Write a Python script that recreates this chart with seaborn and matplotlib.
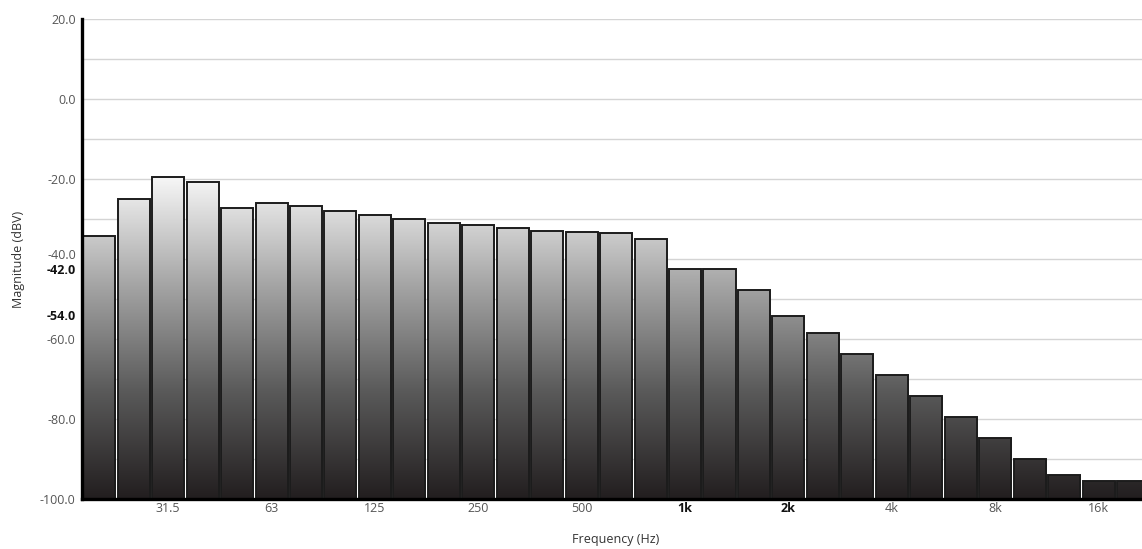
import numpy as np
import pandas as pd
import matplotlib
matplotlib.use("Agg")
import matplotlib.pyplot as plt
from matplotlib.colors import LinearSegmentedColormap
import seaborn as sns

# 1/3-octave band centre frequencies (Hz)
bands = ["20", "25", "31.5", "40", "50", "63", "80", "100", "125", "160",
         "200", "250", "315", "400", "500", "630", "800", "1k", "1.25k", "1.6k",
         "2k", "2.5k", "3.15k", "4k", "5k", "6.3k", "8k", "10k", "12.5k", "16k",
         "20k"]
# Band levels (dBV)
levels = [-34.25, -25.0, -19.5, -20.75, -27.25, -26.0, -26.75, -28.0, -29.0, -30.0,
          -31.0, -31.5, -32.25, -33.0, -33.25, -33.5, -35.0, -42.6, -42.5, -47.75,
          -54.3, -58.6, -63.75, -69.0, -74.25, -79.5, -84.8, -90.0, -94.0, -95.4,
          -95.4]
# Labelled x ticks (band labels) and emphasised ones
xtick_labels = ["31.5", "63", "125", "250", "500", "1k", "2k", "4k", "8k", "16k"]
bold_xticks = ["1k", "2k"]
# Labelled y ticks and emphasised marker levels
ytick_values = [20, 0, -20, -60, -80, -100]
close_pair = {-40: 2.2, -42: -2.6}   # scale label and marker label that sit close together
marker_levels = [-54]

FLOOR = -100
TOP = 20
FS = 9

sns.set_theme(style="white")
plt.rcParams["font.family"] = ["Open Sans", "DejaVu Sans"]

fig = plt.figure(figsize=(11.42, 5.49), dpi=100)
ax = fig.add_axes([82 / 1142, 1 - 499 / 549, 1 - 82 / 1142, (499 - 19) / 549])

df = pd.DataFrame({"band": bands, "level": levels})
sns.barplot(data=df, x="band", y="level", order=bands, width=0.93,
            color="white", edgecolor="#1c1c1c", linewidth=1.4, ax=ax,
            zorder=3)

# Bars rise from the floor of the scale up to each band level
patches = list(ax.patches)
for p, lv in zip(patches, levels):
    p.set_y(FLOOR)
    p.set_height(lv - FLOOR)
    p.set_facecolor("none")

# Vertical grey gradient clipped to every bar
cmap = LinearSegmentedColormap.from_list(
    "bars", ["#221e1f", "#5a5a5a", "#a6a6a6", "#f8f8f8"])
grad = np.linspace(0, 1, 256).reshape(-1, 1)
x0, x1 = -0.5, len(bands) - 0.5
for p in patches:
    im = ax.imshow(grad, cmap=cmap, origin="lower", aspect="auto",
                   extent=(x0, x1, FLOOR, -19.0), zorder=2,
                   interpolation="bilinear")
    im.set_clip_path(p)

ax.set_xlim(-0.5, 30.26)
ax.set_ylim(FLOOR, TOP)

# Horizontal grid every 10 dB
for g in range(-90, TOP + 1, 10):
    ax.axhline(g, color="#d4d4d4", lw=1.0, zorder=1)

# Y tick labels, plus bold marker levels
yt = ytick_values + marker_levels
ax.set_yticks(yt)
ax.set_yticklabels([f"{v:.1f}" for v in yt])
for lab, v in zip(ax.get_yticklabels(), yt):
    if v in marker_levels:
        lab.set_fontweight("bold")
        lab.set_color("#111111")
    else:
        lab.set_color("#555555")
    lab.set_fontsize(FS)

# -40 scale label and -42 marker label, nudged apart
for v, dy in close_pair.items():
    bold = v == -42
    ax.annotate(f"{v:.1f}", xy=(0, v), xycoords=ax.get_yaxis_transform(),
                xytext=(-4.3, dy), textcoords="offset points",
                ha="right", va="center", fontsize=FS,
                fontweight="bold" if bold else "normal",
                color="#111111" if bold else "#555555",
                annotation_clip=False)

xt_pos = [bands.index(b) for b in xtick_labels]
ax.set_xticks(xt_pos)
ax.set_xticklabels(xtick_labels)
for lab in ax.get_xticklabels():
    lab.set_fontsize(FS)
    if lab.get_text() in bold_xticks:
        lab.set_fontweight("bold")
        lab.set_color("#111111")
    else:
        lab.set_color("#555555")

ax.tick_params(axis="y", length=0, pad=4.5)
ax.tick_params(axis="x", length=0, pad=2.5)

ax.set_xlabel("Frequency (Hz)", fontsize=FS, color="#333333")
ax.set_ylabel("Magnitude (dBV)", fontsize=FS, color="#333333")
ax.xaxis.set_label_coords((616 - 82) / (1142 - 82), -(533 - 499) / 480)
ax.yaxis.set_label_coords(-(82 - 25) / (1142 - 82), (499 - 259) / 480)

for s in ["top", "right"]:
    ax.spines[s].set_visible(False)
for s in ["left", "bottom"]:
    ax.spines[s].set_color("black")
    ax.spines[s].set_linewidth(2.4)
    ax.spines[s].set_zorder(5)

fig.savefig("out.png", dpi=100, facecolor="white")
